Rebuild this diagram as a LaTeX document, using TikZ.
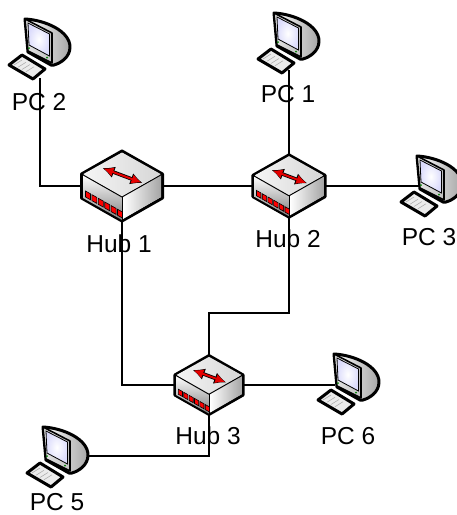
\documentclass[tikz,border=0pt]{standalone}
\usepackage{fontspec}
\setmainfont{Liberation Sans}
\usetikzlibrary{arrows.meta,calc}
\tikzset{
  link/.style={draw=black,line width=2.3pt},
  lbl/.style={font=\fontsize{24.5}{24.5}\selectfont,inner sep=0pt,text=black},
  edge/.style={draw=black,line width=3pt,line join=round},
  thin edge/.style={draw=black,line width=1pt,line join=round},
  hubpic/.pic={
    \path[edge,fill=white]
      (0,-35)--(40.5,-12)--(40.5,12)--(0,35)--(-40.5,12)--(-40.5,-12)--cycle;
    \path[top color=white,bottom color=black!50,draw=none]
      (-39,-11)--(0,11)--(0,34)--(-39,12)--cycle;
    \path[left color=white,right color=black!35,draw=none]
      (1,11)--(39,-11)--(39,11)--(1,33)--cycle;
    \path[left color=black!4,right color=black!16,draw=none]
      (0,-33.5)--(38.5,-12)--(0,10)--(-38.5,-12)--cycle;
    \draw[thin edge] (-40.5,-12)--(0,11)--(40.5,-12);
    \draw[thin edge] (0,11)--(0,35);
    \foreach \t in {0,...,5}{
      \fill[red,draw=black,line width=.6pt]
        ({-36.5+\t*6.4},{5+\t*3.65}) -- ++(5,2.8) -- ++(0,6) -- ++(-5,-2.8) -- cycle;
    }
    \draw[draw=black,line width=3.6pt,{Latex[length=12pt,width=12pt]}-{Latex[length=12pt,width=12pt]}] (-19.5,-18)--(20.5,-3);
    \draw[draw=red!90!black,line width=2pt,{Latex[length=10pt,width=9.5pt]}-{Latex[length=10pt,width=9.5pt]}] (-18.5,-17.5)--(19.5,-3.4);
  },
  pcpic/.pic={
    \path[edge,left color=white,right color=black!35]
      (0,0) .. controls (20,1) and (45,12) .. (45,28)
      .. controls (45,38) and (36,44) .. (29,46) -- (26,46) -- (3,33) -- cycle;
    \path[edge,left color=black!10,right color=black!25,line width=1.6pt]
      (0,0)--(27,14)--(27,44)--(3,32)--cycle;
    \path[draw=black,line width=.8pt,inner color=white,outer color=black!10!blue!14]
      (3,4)--(24.5,15)--(24.5,37)--(4,26)--cycle;
    \fill[green!50!black] (4,29) circle (1); \fill[green!50!black] (22,38.5) circle (1);
    \path[edge,fill=black!8]
      (-16,46)--(-3,36)--(20,50)--(8,60)--cycle;
    \foreach \t in {0,.25,.5,.75}{
      \draw[black!35,line width=.5pt] ($(-11,46)+(\t*16,\t*9)$)--++(8,-5);
    }
  }
}
\begin{document}
\begin{tikzpicture}[x=1pt,y=-1pt]
\useasboundingbox[fill=white] (0,0) rectangle (457,515);
\coordinate (hubA) at (122,186);
\coordinate (hubB) at (289,186);
\coordinate (hubC) at (209,385);
\coordinate (pcA) at (289,70);
\coordinate (pcB) at (40,78);
\coordinate (pcC) at (420,186);
\coordinate (pcF) at (335,385);
\coordinate (pcE) at (87,456);
\coordinate (jog) at (209,313);
\draw[link] (pcB) |- (hubA);
\draw[link] (hubA) -- (hubB);
\draw[link] (pcA) -- (hubB);
\draw[link] (hubB) -- (pcC);
\draw[link] (hubA) |- (hubC);
\draw[link] (hubB) |- (jog) -- (hubC);
\draw[link] (hubC) -- (pcF);
\draw[link] (hubC) |- (pcE);
\pic at (hubA) {hubpic};
\pic[scale=.89] at (hubB) {hubpic};
\pic[scale=.84] at (hubC) {hubpic};
\pic at (25,19) {pcpic};
\pic at (274,13) {pcpic};
\pic at (417,156) {pcpic};
\pic at (334,354) {pcpic};
\pic at (43,427) {pcpic};
\node[lbl] (lA) at (39,102) {PC 2};
\node[lbl] (lB) at (288,94) {PC 1};
\node[lbl] (lC) at (429,237) {PC 3};
\node[lbl] (lD) at (348,436) {PC 6};
\node[lbl] (lE) at (57,502) {PC 5};
\node[lbl] (lF) at (119,244) {Hub 1};
\node[lbl] (lG) at (288,239) {Hub 2};
\node[lbl] (lH) at (208,436) {Hub 3};
\end{tikzpicture}
\end{document}
